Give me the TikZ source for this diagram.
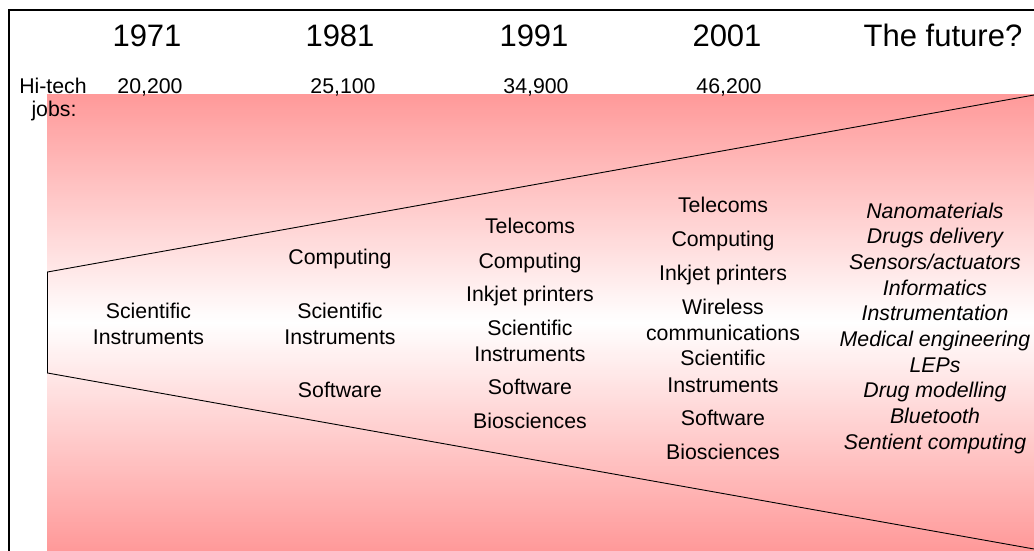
\documentclass[tikz,border=0pt]{standalone}
\usepackage{fontspec}
\setmainfont{Liberation Sans}
\definecolor{pinkish}{RGB}{255,153,153}
\begin{document}
\begin{tikzpicture}[x=1pt,y=-1pt,
  lbl/.style={inner sep=0pt,anchor=base,font=\fontsize{21.3}{25}\selectfont},
  yr/.style={inner sep=0pt,anchor=base,font=\fontsize{31}{36}\selectfont},
  fut/.style={inner sep=0pt,anchor=base,font=\fontsize{21.3}{25}\selectfont\itshape},
  frame/.style={line width=2pt},
  funnel/.style={line width=0.9pt}]
\useasboundingbox (0,0) rectangle (1034,551);
% vertical gradient: pink - white - pink
\foreach \i in {0,2,...,456}{
  \pgfmathsetmacro\p{abs(94+\i+1-322.5)/228.5*100}
  \fill[pinkish!\p!white] (47,94+\i) rectangle (1034,96.6+\i);
}
\draw[frame] (9,551) -- (9,10.5) -- (1034,10.5);
\draw[funnel] (1034,95) -- (47.5,272) -- (47.5,373) -- (1034,549);
% years
\node[yr] (y1) at (147,47) {1971};
\node[yr] (y2) at (340,47) {1981};
\node[yr] (y3) at (534,47) {1991};
\node[yr] (y4) at (727,47) {2001};
\node[yr] (y5) at (943,47) {The future?};
% jobs
\node[lbl] (hi) at (53,93) {Hi-tech};
\node[lbl] (jobs) at (54,117) {jobs:};
\node[lbl] (n1) at (150,93) {20,200};
\node[lbl] (n2) at (343,93) {25,100};
\node[lbl] (n3) at (536,93) {34,900};
\node[lbl] (n4) at (729,93) {46,200};
% 1971
\node[lbl] (a1) at (148.5,318) {Scientific};
\node[lbl] (a2) at (148.5,344) {Instruments};
% 1981
\node[lbl] (b1) at (340,264) {Computing};
\node[lbl] (b2) at (340,318) {Scientific};
\node[lbl] (b3) at (340,344) {Instruments};
\node[lbl] (b4) at (340,397) {Software};
% 1991
\node[lbl] (c1) at (530,233) {Telecoms};
\node[lbl] (c2) at (530,268) {Computing};
\node[lbl] (c3) at (530,301) {Inkjet printers};
\node[lbl] (c4) at (530,335) {Scientific};
\node[lbl] (c5) at (530,361) {Instruments};
\node[lbl] (c6) at (530,394) {Software};
\node[lbl] (c7) at (530,428) {Biosciences};
% 2001
\node[lbl] (d1) at (723,212) {Telecoms};
\node[lbl] (d2) at (723,246) {Computing};
\node[lbl] (d3) at (723,280) {Inkjet printers};
\node[lbl] (d4) at (723,314) {Wireless};
\node[lbl] (d5) at (723,340) {communications};
\node[lbl] (d6) at (723,365) {Scientific};
\node[lbl] (d7) at (723,392) {Instruments};
\node[lbl] (d8) at (723,425) {Software};
\node[lbl] (d9) at (723,459) {Biosciences};
% future
\node[fut] (f1) at (935,218) {Nanomaterials};
\node[fut] (f2) at (935,243.7) {Drugs delivery};
\node[fut] (f3) at (935,269.4) {Sensors/actuators};
\node[fut] (f4) at (935,295.1) {Informatics};
\node[fut] (f5) at (935,320.8) {Instrumentation};
\node[fut] (f6) at (935,346.5) {Medical engineering};
\node[fut] (f7) at (935,372.2) {LEPs};
\node[fut] (f8) at (935,397.9) {Drug modelling};
\node[fut] (f9) at (935,423.6) {Bluetooth};
\node[fut] (f10) at (935,449.3) {Sentient computing};
\end{tikzpicture}
\end{document}
